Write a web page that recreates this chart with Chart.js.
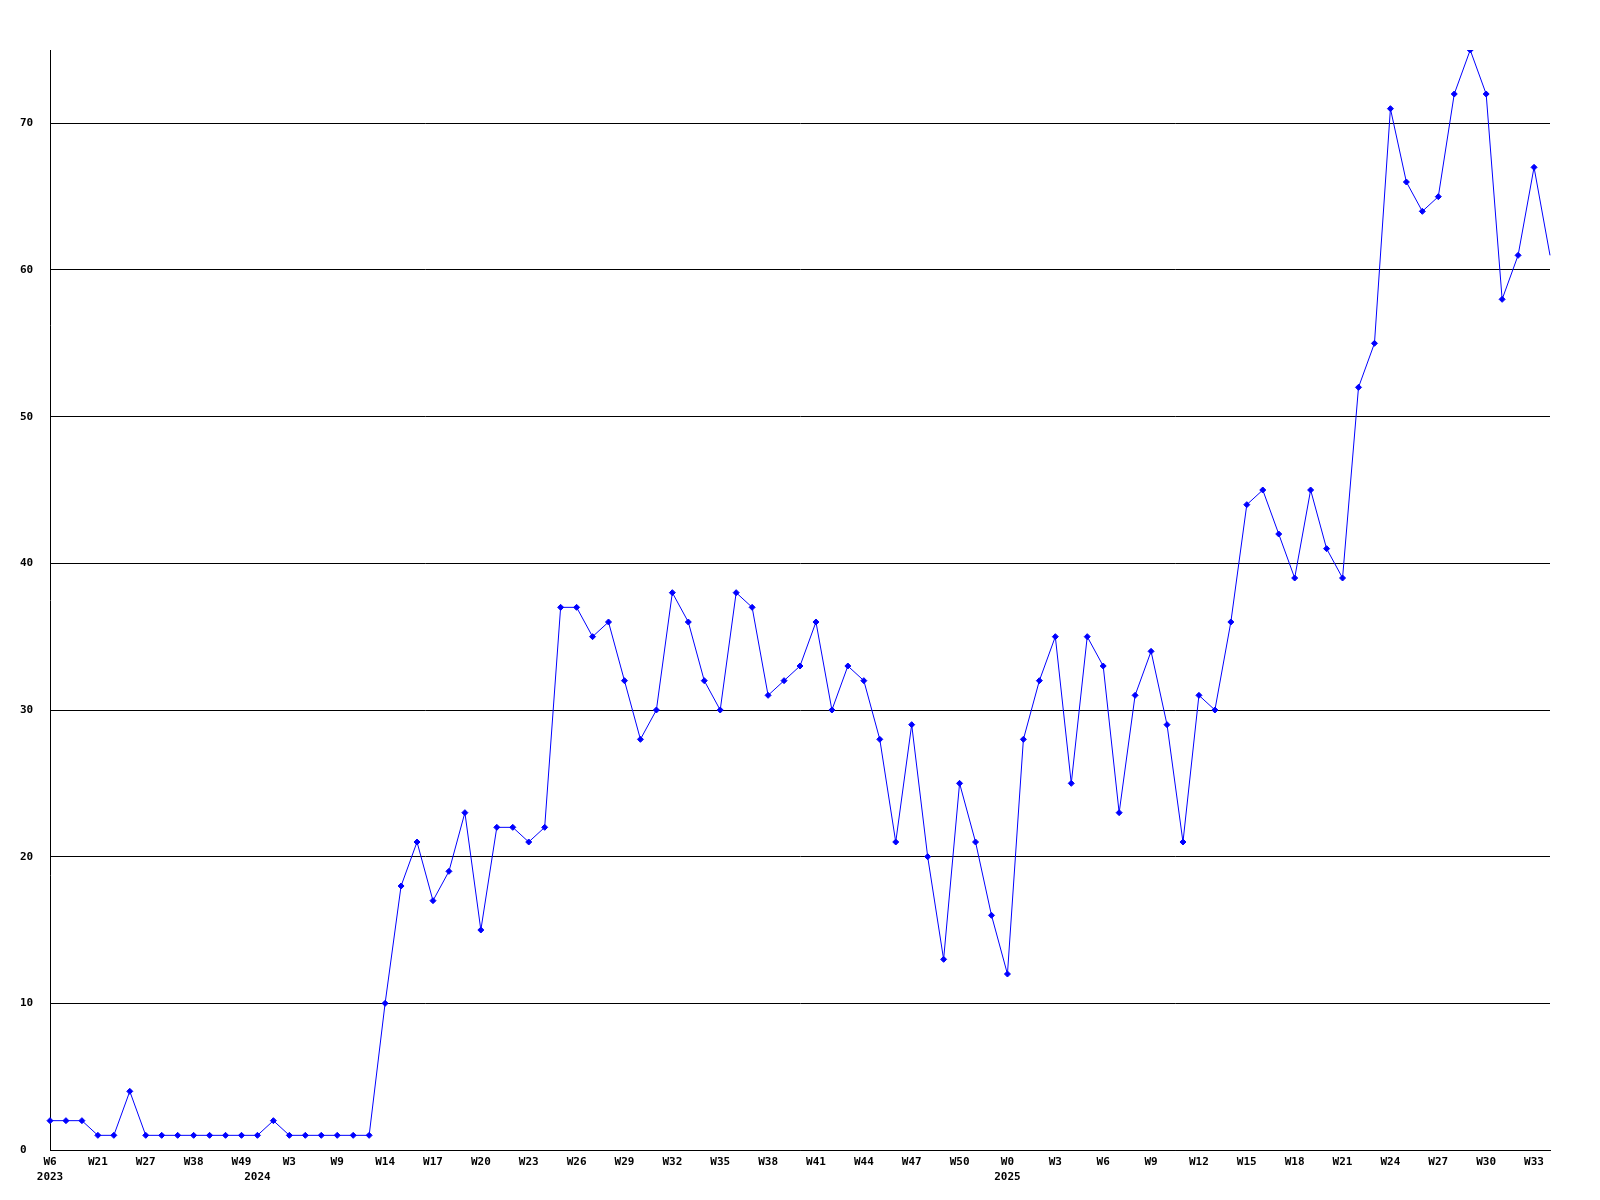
<!DOCTYPE html>
<html>
<head>
<meta charset="utf-8">
<script src="https://cdn.jsdelivr.net/npm/chart.js@4/dist/chart.umd.min.js"></script>
<style>
  html, body { margin: 0; padding: 0; background: #fff; }
  #grafica { display: block; }
</style>
</head>
<body>
<canvas id="grafica" width="1600" height="1200"></canvas>
<script>
// semanas (una por punto)
const semanas = [
    'W6', 'W11', 'W16', 'W21', 'W23', 'W25', 'W27', 'W31', 'W35', 'W38', 'W42', 'W46', 'W49',
    'W1', 'W2', 'W3', 'W5', 'W7', 'W9', 'W11', 'W12',
    'W14', 'W15', 'W16', 'W17', 'W18', 'W19', 'W20', 'W21', 'W22', 'W23', 'W24', 'W25', 'W26',
    'W27', 'W28', 'W29', 'W30', 'W31', 'W32', 'W33', 'W34', 'W35', 'W36', 'W37', 'W38', 'W39',
    'W40', 'W41', 'W42', 'W43', 'W44', 'W45', 'W46', 'W47', 'W48', 'W49', 'W50', 'W51', 'W52',
    'W0', 'W1', 'W2', 'W3', 'W4', 'W5', 'W6', 'W7', 'W8', 'W9', 'W10', 'W11', 'W12', 'W13',
    'W14', 'W15', 'W16', 'W17', 'W18', 'W19', 'W20', 'W21', 'W22', 'W23', 'W24', 'W25', 'W26',
    'W27', 'W28', 'W29', 'W30', 'W31', 'W32', 'W33', 'W34'
];

// años: posición del punto y texto
const anioIndice = [0, 13, 60];
const anioTexto = ['2023', '2024', '2025'];

const valores = [
    2, 2, 2, 1, 1, 4, 1, 1, 1, 1, 1, 1, 1, 1, 2, 1, 1, 1, 1, 1, 1,
    10, 18, 21, 17, 19, 23, 15, 22, 22, 21, 22,
    37, 37, 35, 36, 32, 28, 30, 38, 36, 32,
    30, 38, 37, 31, 32, 33, 36, 30, 33, 32,
    28, 21, 29, 20, 13, 25, 21, 16, 12, 28,
    32, 35, 25, 35, 33, 23, 31, 34, 29, 21,
    31, 30, 36, 44, 45, 42, 39, 45, 41, 39,
    52, 55, 71, 66, 64, 65, 72, 75, 72, 58, 61, 67, 61
];

const yTicks = [0, 10, 20, 30, 40, 50, 60, 70];
const yMax = 75;

const fuente = { family: "'DejaVu Sans Mono', 'Liberation Mono', monospace", size: 11, weight: 'bold', lineHeight: 1.32 };

new Chart(document.getElementById('grafica'), {
    type: 'line',
    data: {
        labels: semanas,
        datasets: [{
            data: valores,
            borderColor: '#0000ff',
            backgroundColor: '#0000ff',
            borderWidth: 1,
            tension: 0,
            pointStyle: 'rectRot',
            // el último punto va sin marcador
            pointRadius: ctx => ctx.dataIndex === valores.length - 1 ? 0 : 3,
            pointBorderWidth: 1,
            pointBorderColor: '#0000ff',
            pointBackgroundColor: '#0000ff'
        }]
    },
    options: {
        responsive: false,
        animation: false,
        layout: { padding: { left: 20, right: 50, top: 50, bottom: 0 } },
        plugins: {
            legend: { display: false },
            tooltip: { enabled: false }
        },
        scales: {
            x: {
                offset: false,
                grid: { display: false, drawTicks: false },
                border: { display: true, color: '#000', width: 1 },
                ticks: {
                    autoSkip: false,
                    maxRotation: 0,
                    minRotation: 0,
                    padding: 5,
                    color: '#000',
                    font: fuente,
                    callback: function (val, i) {
                        const w = i % 3 === 0 ? semanas[i] : '';
                        const k = anioIndice.indexOf(i);
                        if (k >= 0) return [w, anioTexto[k]];
                        return w;
                    }
                },
                afterFit: scale => { scale.height = 50; }
            },
            y: {
                min: 0,
                max: yMax,
                grid: { color: '#000', lineWidth: 1, drawTicks: false },
                border: { display: true, color: '#000', width: 1 },
                ticks: {
                    crossAlign: 'far',
                    padding: 0,
                    color: '#000',
                    font: fuente
                },
                afterBuildTicks: scale => {
                    scale.ticks = yTicks.map(v => ({ value: v }));
                },
                afterFit: scale => { scale.width = 30; }
            }
        }
    }
});
</script>
</body>
</html>
